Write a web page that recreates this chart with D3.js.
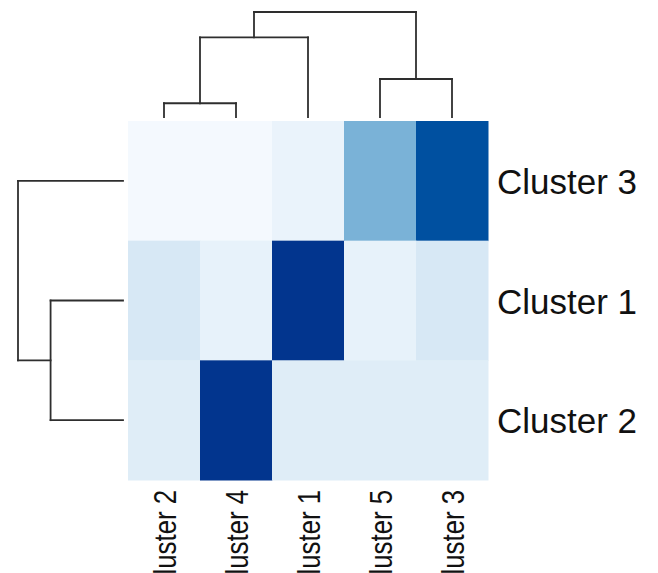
<!DOCTYPE html>
<html>
<head>
<meta charset="utf-8">
<script src="https://cdn.jsdelivr.net/npm/d3@7"></script>
<style>
  body { margin: 0; background: #fff; }
  text { font-family: "Liberation Sans", Arial, sans-serif; fill: #111; }
</style>
</head>
<body>
<div id="heatmap"></div>
<script>
// column / row order (as the dendrograms leave them)
var colNames = ["Cluster 2", "Cluster 4", "Cluster 1", "Cluster 5", "Cluster 3"];
var rowNames = ["Cluster 3", "Cluster 1", "Cluster 2"];

// cell values, one array per row
var rowCluster3 = [0.01, 0.01, 0.05, 0.47, 0.88];
var rowCluster1 = [0.12, 0.06, 0.98, 0.06, 0.12];
var rowCluster2 = [0.09, 0.98, 0.09, 0.09, 0.09];
var values = [rowCluster3, rowCluster1, rowCluster2];

// dendrograms: merge heights
var colTree = {h: 2.9, children: [
  {h: 2.2, children: [
    {h: 0.38, children: [{name: "Cluster 2"}, {name: "Cluster 4"}]},
    {name: "Cluster 1"}]},
  {h: 1.05, children: [{name: "Cluster 5"}, {name: "Cluster 3"}]}
]};
var rowTree = {h: 2.9, children: [
  {name: "Cluster 3"},
  {h: 2.0, children: [{name: "Cluster 1"}, {name: "Cluster 2"}]}
]};

var width = 658, height = 573;

var svg = d3.select("#heatmap")
  .append("svg")
    .attr("width", width)
    .attr("height", height);

var x = d3.scaleBand().domain(colNames).range([128, 488]);
var y = d3.scaleBand().domain(rowNames).range([121, 480]);

var color = d3.scaleLinear()
  .domain([0, 0.47, 0.88, 1])
  .range(["#f7fbff", "#7ab2d7", "#0050a0", "#03308a"]);

// cells
var cells = [];
values.forEach(function(row, i) {
  row.forEach(function(v, j) {
    cells.push({row: rowNames[i], col: colNames[j], value: v});
  });
});

svg.append("g")
  .selectAll("rect")
  .data(cells)
  .enter()
  .append("rect")
    .attr("x", d => x(d.col))
    .attr("y", d => y(d.row))
    .attr("width", x.bandwidth() + 0.5)
    .attr("height", y.bandwidth() + 0.5)
    .style("fill", d => color(d.value));

// dendrogram height scale (distance -> pixels away from the leaves)
var dist = d3.scaleLinear().domain([0, 2.9]).range([0, 105]);

function layout(tree, band) {
  var root = d3.hierarchy(tree);
  root.eachAfter(function(n) {
    if (!n.children) { n.pos = band(n.data.name) + band.bandwidth() / 2; n.hh = 0; }
    else { n.pos = d3.mean(n.children, c => c.pos); n.hh = n.data.h; }
  });
  return root;
}

function segments(root) {
  var segs = [];
  root.each(function(n) {
    if (!n.children) return;
    var a = n.children[0], b = n.children[1];
    segs.push([a.pos, n.hh, b.pos, n.hh]);
    n.children.forEach(c => segs.push([c.pos, c.hh, c.pos, n.hh]));
  });
  return segs;
}

// top dendrogram
var colRoot = layout(colTree, x);
var topBase = 117;
svg.append("g")
  .selectAll("line")
  .data(segments(colRoot))
  .enter()
  .append("line")
    .attr("x1", d => d[0])
    .attr("x2", d => d[2])
    .attr("y1", d => topBase - dist(d[1]))
    .attr("y2", d => topBase - dist(d[3]))
    .style("stroke", "#2e2e2e")
    .style("stroke-width", 1.8)
    .style("stroke-linecap", "square");

// left dendrogram
var rowRoot = layout(rowTree, y);
var leftBase = 123;
svg.append("g")
  .selectAll("line")
  .data(segments(rowRoot))
  .enter()
  .append("line")
    .attr("y1", d => d[0])
    .attr("y2", d => d[2])
    .attr("x1", d => leftBase - dist(d[1]))
    .attr("x2", d => leftBase - dist(d[3]))
    .style("stroke", "#2e2e2e")
    .style("stroke-width", 1.8)
    .style("stroke-linecap", "square");

// row labels
svg.append("g")
  .selectAll("text")
  .data(rowNames)
  .enter()
  .append("text")
    .attr("x", 497)
    .attr("y", d => y(d) + y.bandwidth() / 2 + 13)
    .attr("font-size", "35px")
    .text(d => d);

// column labels (rotated, the first letter runs off the bottom as in the source)
svg.append("g")
  .selectAll("text")
  .data(colNames)
  .enter()
  .append("text")
    .attr("transform", d => "translate(" + (x(d) + x.bandwidth() / 2 + 12) + ",490) rotate(-90)")
    .attr("text-anchor", "end")
    .attr("font-size", "31px")
    .attr("textLength", 103)
    .attr("lengthAdjust", "spacingAndGlyphs")
    .text(d => d);
</script>
</body>
</html>
